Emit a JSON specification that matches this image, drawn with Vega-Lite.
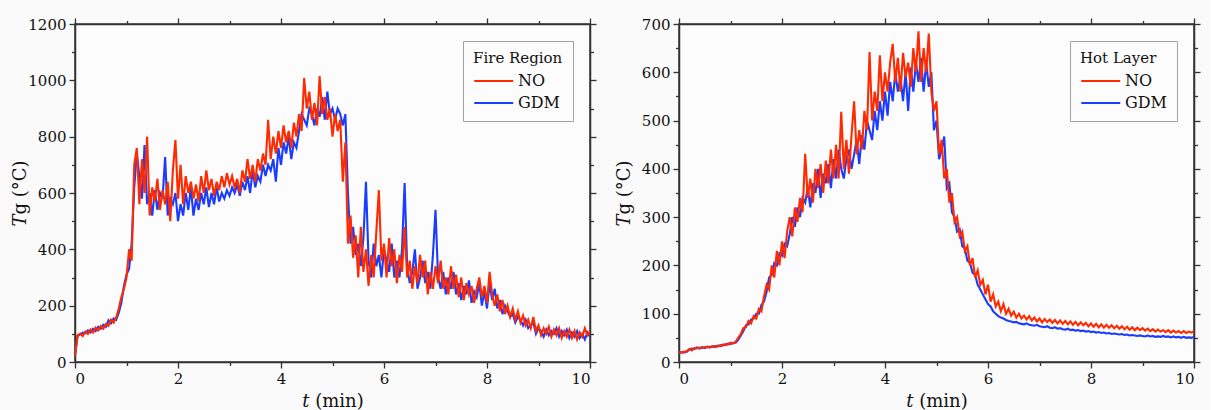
{
"$schema": "https://vega.github.io/schema/vega-lite/v6.json",
"background": "#fafafa",
"padding": {"left": 10, "top": 16, "right": 8, "bottom": 2},
"spacing": 16,
"datasets": {
"fire": [
{"t":0,"NO":20,"GDM":25},{"t":0.05,"NO":95,"GDM":92},{"t":0.1,"NO":100,"GDM":98},{"t":0.15,"NO":92,"GDM":104},{"t":0.2,"NO":108,"GDM":102},{"t":0.25,"NO":100,"GDM":112},{"t":0.3,"NO":115,"GDM":105},{"t":0.35,"NO":104,"GDM":118},{"t":0.4,"NO":122,"GDM":110},{"t":0.45,"NO":112,"GDM":125},{"t":0.5,"NO":128,"GDM":118},{"t":0.55,"NO":118,"GDM":132},{"t":0.6,"NO":135,"GDM":125},{"t":0.65,"NO":128,"GDM":148},{"t":0.7,"NO":150,"GDM":138},{"t":0.75,"NO":140,"GDM":155},{"t":0.8,"NO":158,"GDM":150},{"t":0.85,"NO":190,"GDM":175},{"t":0.9,"NO":230,"GDM":210},{"t":0.95,"NO":260,"GDM":270},{"t":1,"NO":300,"GDM":310},{"t":1.05,"NO":400,"GDM":330},{"t":1.1,"NO":360,"GDM":420},{"t":1.15,"NO":700,"GDM":620},{"t":1.2,"NO":760,"GDM":740},{"t":1.25,"NO":560,"GDM":660},{"t":1.3,"NO":720,"GDM":580},{"t":1.35,"NO":600,"GDM":770},{"t":1.4,"NO":800,"GDM":560},{"t":1.45,"NO":520,"GDM":600},{"t":1.5,"NO":620,"GDM":520},{"t":1.55,"NO":570,"GDM":610},{"t":1.6,"NO":650,"GDM":540},{"t":1.65,"NO":540,"GDM":600},{"t":1.7,"NO":610,"GDM":580},{"t":1.75,"NO":560,"GDM":728},{"t":1.8,"NO":640,"GDM":520},{"t":1.85,"NO":500,"GDM":580},{"t":1.9,"NO":680,"GDM":560},{"t":1.95,"NO":788,"GDM":600},{"t":2,"NO":580,"GDM":500},{"t":2.05,"NO":700,"GDM":560},{"t":2.1,"NO":560,"GDM":520},{"t":2.15,"NO":660,"GDM":600},{"t":2.2,"NO":600,"GDM":540},{"t":2.25,"NO":640,"GDM":620},{"t":2.3,"NO":580,"GDM":520},{"t":2.35,"NO":630,"GDM":580},{"t":2.4,"NO":570,"GDM":540},{"t":2.45,"NO":660,"GDM":600},{"t":2.5,"NO":600,"GDM":560},{"t":2.55,"NO":680,"GDM":620},{"t":2.6,"NO":610,"GDM":550},{"t":2.65,"NO":650,"GDM":600},{"t":2.7,"NO":590,"GDM":560},{"t":2.75,"NO":640,"GDM":620},{"t":2.8,"NO":610,"GDM":570},{"t":2.85,"NO":660,"GDM":600},{"t":2.9,"NO":620,"GDM":580},{"t":2.95,"NO":670,"GDM":610},{"t":3,"NO":630,"GDM":590},{"t":3.05,"NO":660,"GDM":620},{"t":3.1,"NO":620,"GDM":600},{"t":3.15,"NO":650,"GDM":630},{"t":3.2,"NO":600,"GDM":590},{"t":3.25,"NO":680,"GDM":640},{"t":3.3,"NO":640,"GDM":610},{"t":3.35,"NO":720,"GDM":660},{"t":3.4,"NO":650,"GDM":600},{"t":3.45,"NO":700,"GDM":680},{"t":3.5,"NO":640,"GDM":620},{"t":3.55,"NO":720,"GDM":660},{"t":3.6,"NO":680,"GDM":640},{"t":3.65,"NO":740,"GDM":700},{"t":3.7,"NO":700,"GDM":660},{"t":3.75,"NO":860,"GDM":700},{"t":3.8,"NO":720,"GDM":680},{"t":3.85,"NO":800,"GDM":720},{"t":3.9,"NO":740,"GDM":640},{"t":3.95,"NO":820,"GDM":760},{"t":4,"NO":760,"GDM":700},{"t":4.05,"NO":840,"GDM":780},{"t":4.1,"NO":780,"GDM":740},{"t":4.15,"NO":820,"GDM":800},{"t":4.2,"NO":760,"GDM":720},{"t":4.25,"NO":850,"GDM":780},{"t":4.3,"NO":800,"GDM":760},{"t":4.35,"NO":880,"GDM":820},{"t":4.4,"NO":820,"GDM":880},{"t":4.45,"NO":1008,"GDM":860},{"t":4.5,"NO":900,"GDM":840},{"t":4.55,"NO":960,"GDM":900},{"t":4.6,"NO":860,"GDM":880},{"t":4.65,"NO":920,"GDM":840},{"t":4.7,"NO":840,"GDM":900},{"t":4.75,"NO":1015,"GDM":870},{"t":4.8,"NO":880,"GDM":940},{"t":4.85,"NO":940,"GDM":860},{"t":4.9,"NO":860,"GDM":960},{"t":4.95,"NO":900,"GDM":880},{"t":5,"NO":800,"GDM":900},{"t":5.05,"NO":880,"GDM":860},{"t":5.1,"NO":820,"GDM":900},{"t":5.15,"NO":860,"GDM":880},{"t":5.2,"NO":640,"GDM":840},{"t":5.25,"NO":780,"GDM":880},{"t":5.3,"NO":420,"GDM":600},{"t":5.35,"NO":520,"GDM":420},{"t":5.4,"NO":370,"GDM":480},{"t":5.45,"NO":450,"GDM":380},{"t":5.5,"NO":300,"GDM":420},{"t":5.55,"NO":480,"GDM":340},{"t":5.6,"NO":320,"GDM":440},{"t":5.65,"NO":400,"GDM":640},{"t":5.7,"NO":270,"GDM":360},{"t":5.75,"NO":380,"GDM":300},{"t":5.8,"NO":300,"GDM":420},{"t":5.85,"NO":460,"GDM":340},{"t":5.9,"NO":610,"GDM":380},{"t":5.95,"NO":360,"GDM":300},{"t":6,"NO":420,"GDM":400},{"t":6.05,"NO":300,"GDM":360},{"t":6.1,"NO":440,"GDM":320},{"t":6.15,"NO":340,"GDM":420},{"t":6.2,"NO":400,"GDM":300},{"t":6.25,"NO":280,"GDM":360},{"t":6.3,"NO":380,"GDM":300},{"t":6.35,"NO":320,"GDM":400},{"t":6.4,"NO":480,"GDM":635},{"t":6.45,"NO":300,"GDM":340},{"t":6.5,"NO":360,"GDM":280},{"t":6.55,"NO":260,"GDM":320},{"t":6.6,"NO":340,"GDM":400},{"t":6.65,"NO":280,"GDM":260},{"t":6.7,"NO":380,"GDM":300},{"t":6.75,"NO":300,"GDM":360},{"t":6.8,"NO":360,"GDM":280},{"t":6.85,"NO":240,"GDM":320},{"t":6.9,"NO":320,"GDM":260},{"t":6.95,"NO":260,"GDM":380},{"t":7,"NO":340,"GDM":540},{"t":7.05,"NO":280,"GDM":300},{"t":7.1,"NO":360,"GDM":260},{"t":7.15,"NO":260,"GDM":320},{"t":7.2,"NO":300,"GDM":240},{"t":7.25,"NO":240,"GDM":300},{"t":7.3,"NO":340,"GDM":260},{"t":7.35,"NO":260,"GDM":320},{"t":7.4,"NO":310,"GDM":240},{"t":7.45,"NO":230,"GDM":280},{"t":7.5,"NO":300,"GDM":220},{"t":7.55,"NO":220,"GDM":270},{"t":7.6,"NO":280,"GDM":240},{"t":7.65,"NO":240,"GDM":290},{"t":7.7,"NO":270,"GDM":210},{"t":7.75,"NO":210,"GDM":250},{"t":7.8,"NO":260,"GDM":230},{"t":7.85,"NO":300,"GDM":280},{"t":7.9,"NO":230,"GDM":200},{"t":7.95,"NO":270,"GDM":250},{"t":8,"NO":210,"GDM":190},{"t":8.05,"NO":320,"GDM":280},{"t":8.1,"NO":240,"GDM":220},{"t":8.15,"NO":200,"GDM":260},{"t":8.2,"NO":240,"GDM":190},{"t":8.25,"NO":180,"GDM":220},{"t":8.3,"NO":220,"GDM":170},{"t":8.35,"NO":170,"GDM":200},{"t":8.4,"NO":200,"GDM":180},{"t":8.45,"NO":160,"GDM":160},{"t":8.5,"NO":190,"GDM":170},{"t":8.55,"NO":150,"GDM":140},{"t":8.6,"NO":180,"GDM":160},{"t":8.65,"NO":140,"GDM":150},{"t":8.7,"NO":165,"GDM":130},{"t":8.75,"NO":130,"GDM":150},{"t":8.8,"NO":150,"GDM":120},{"t":8.85,"NO":120,"GDM":130},{"t":8.9,"NO":160,"GDM":140},{"t":8.95,"NO":110,"GDM":100},{"t":9,"NO":130,"GDM":120},{"t":9.05,"NO":95,"GDM":110},{"t":9.1,"NO":120,"GDM":90},{"t":9.15,"NO":100,"GDM":115},{"t":9.2,"NO":125,"GDM":95},{"t":9.25,"NO":90,"GDM":110},{"t":9.3,"NO":115,"GDM":100},{"t":9.35,"NO":95,"GDM":120},{"t":9.4,"NO":120,"GDM":90},{"t":9.45,"NO":85,"GDM":110},{"t":9.5,"NO":110,"GDM":95},{"t":9.55,"NO":90,"GDM":115},{"t":9.6,"NO":115,"GDM":85},{"t":9.65,"NO":85,"GDM":105},{"t":9.7,"NO":110,"GDM":90},{"t":9.75,"NO":80,"GDM":110},{"t":9.8,"NO":105,"GDM":85},{"t":9.85,"NO":90,"GDM":100},{"t":9.9,"NO":120,"GDM":80},{"t":9.95,"NO":95,"GDM":105},{"t":10,"NO":110,"GDM":90}
],
"hot": [
{"t":0,"NO":20,"GDM":20},{"t":0.05,"NO":20,"GDM":20},{"t":0.1,"NO":21,"GDM":20},{"t":0.15,"NO":22,"GDM":21},{"t":0.2,"NO":27,"GDM":26},{"t":0.25,"NO":24,"GDM":28},{"t":0.3,"NO":29,"GDM":27},{"t":0.35,"NO":28,"GDM":30},{"t":0.4,"NO":30,"GDM":28},{"t":0.45,"NO":29,"GDM":31},{"t":0.5,"NO":31,"GDM":29},{"t":0.55,"NO":30,"GDM":32},{"t":0.6,"NO":32,"GDM":30},{"t":0.65,"NO":31,"GDM":33},{"t":0.7,"NO":33,"GDM":31},{"t":0.75,"NO":32,"GDM":34},{"t":0.8,"NO":35,"GDM":33},{"t":0.85,"NO":34,"GDM":36},{"t":0.9,"NO":37,"GDM":35},{"t":0.95,"NO":36,"GDM":38},{"t":1,"NO":40,"GDM":37},{"t":1.05,"NO":38,"GDM":40},{"t":1.1,"NO":42,"GDM":40},{"t":1.15,"NO":50,"GDM":46},{"t":1.2,"NO":58,"GDM":55},{"t":1.25,"NO":70,"GDM":64},{"t":1.3,"NO":72,"GDM":76},{"t":1.35,"NO":85,"GDM":78},{"t":1.4,"NO":80,"GDM":88},{"t":1.45,"NO":95,"GDM":90},{"t":1.5,"NO":90,"GDM":100},{"t":1.55,"NO":110,"GDM":100},{"t":1.6,"NO":105,"GDM":118},{"t":1.65,"NO":135,"GDM":125},{"t":1.7,"NO":160,"GDM":145},{"t":1.75,"NO":150,"GDM":175},{"t":1.8,"NO":200,"GDM":180},{"t":1.85,"NO":175,"GDM":205},{"t":1.9,"NO":230,"GDM":200},{"t":1.95,"NO":200,"GDM":225},{"t":2,"NO":250,"GDM":220},{"t":2.05,"NO":215,"GDM":245},{"t":2.1,"NO":270,"GDM":240},{"t":2.15,"NO":300,"GDM":265},{"t":2.2,"NO":260,"GDM":300},{"t":2.25,"NO":320,"GDM":280},{"t":2.3,"NO":290,"GDM":320},{"t":2.35,"NO":340,"GDM":300},{"t":2.4,"NO":310,"GDM":340},{"t":2.45,"NO":431,"GDM":330},{"t":2.5,"NO":340,"GDM":360},{"t":2.55,"NO":380,"GDM":320},{"t":2.6,"NO":330,"GDM":370},{"t":2.65,"NO":400,"GDM":350},{"t":2.7,"NO":360,"GDM":400},{"t":2.75,"NO":410,"GDM":340},{"t":2.8,"NO":350,"GDM":390},{"t":2.85,"NO":417,"GDM":370},{"t":2.9,"NO":370,"GDM":410},{"t":2.95,"NO":440,"GDM":360},{"t":3,"NO":380,"GDM":420},{"t":3.05,"NO":450,"GDM":380},{"t":3.1,"NO":380,"GDM":440},{"t":3.15,"NO":518,"GDM":400},{"t":3.2,"NO":400,"GDM":380},{"t":3.25,"NO":460,"GDM":420},{"t":3.3,"NO":390,"GDM":440},{"t":3.35,"NO":470,"GDM":400},{"t":3.4,"NO":540,"GDM":430},{"t":3.45,"NO":430,"GDM":460},{"t":3.5,"NO":480,"GDM":410},{"t":3.55,"NO":440,"GDM":470},{"t":3.6,"NO":520,"GDM":440},{"t":3.65,"NO":480,"GDM":500},{"t":3.7,"NO":642,"GDM":480},{"t":3.75,"NO":500,"GDM":460},{"t":3.8,"NO":560,"GDM":520},{"t":3.85,"NO":520,"GDM":480},{"t":3.9,"NO":635,"GDM":540},{"t":3.95,"NO":540,"GDM":500},{"t":4,"NO":600,"GDM":560},{"t":4.05,"NO":560,"GDM":510},{"t":4.1,"NO":620,"GDM":580},{"t":4.15,"NO":659,"GDM":540},{"t":4.2,"NO":580,"GDM":600},{"t":4.25,"NO":630,"GDM":560},{"t":4.3,"NO":560,"GDM":590},{"t":4.35,"NO":640,"GDM":540},{"t":4.4,"NO":590,"GDM":600},{"t":4.45,"NO":620,"GDM":520},{"t":4.5,"NO":570,"GDM":610},{"t":4.55,"NO":650,"GDM":560},{"t":4.6,"NO":600,"GDM":620},{"t":4.65,"NO":685,"GDM":580},{"t":4.7,"NO":580,"GDM":630},{"t":4.75,"NO":650,"GDM":560},{"t":4.8,"NO":600,"GDM":620},{"t":4.85,"NO":680,"GDM":570},{"t":4.9,"NO":560,"GDM":600},{"t":4.95,"NO":520,"GDM":480},{"t":5,"NO":540,"GDM":500},{"t":5.05,"NO":430,"GDM":420},{"t":5.1,"NO":460,"GDM":440},{"t":5.15,"NO":380,"GDM":467},{"t":5.2,"NO":400,"GDM":360},{"t":5.25,"NO":330,"GDM":370},{"t":5.3,"NO":350,"GDM":310},{"t":5.35,"NO":290,"GDM":300},{"t":5.4,"NO":300,"GDM":270},{"t":5.45,"NO":260,"GDM":275},{"t":5.5,"NO":270,"GDM":240},{"t":5.55,"NO":230,"GDM":235},{"t":5.6,"NO":240,"GDM":210},{"t":5.65,"NO":200,"GDM":205},{"t":5.7,"NO":215,"GDM":185},{"t":5.75,"NO":175,"GDM":180},{"t":5.8,"NO":190,"GDM":160},{"t":5.85,"NO":160,"GDM":150},{"t":5.9,"NO":170,"GDM":140},{"t":5.95,"NO":140,"GDM":130},{"t":6,"NO":160,"GDM":120},{"t":6.05,"NO":125,"GDM":115},{"t":6.1,"NO":140,"GDM":105},{"t":6.15,"NO":115,"GDM":100},{"t":6.2,"NO":125,"GDM":95},{"t":6.25,"NO":105,"GDM":92},{"t":6.3,"NO":120,"GDM":90},{"t":6.35,"NO":100,"GDM":87},{"t":6.4,"NO":110,"GDM":85},{"t":6.45,"NO":96,"GDM":84},{"t":6.5,"NO":104,"GDM":82},{"t":6.55,"NO":92,"GDM":83},{"t":6.6,"NO":100,"GDM":80},{"t":6.65,"NO":90,"GDM":79},{"t":6.7,"NO":96,"GDM":78},{"t":6.75,"NO":88,"GDM":80},{"t":6.8,"NO":95,"GDM":77},{"t":6.85,"NO":86,"GDM":76},{"t":6.9,"NO":92,"GDM":75},{"t":6.95,"NO":84,"GDM":77},{"t":7,"NO":90,"GDM":74},{"t":7.05,"NO":82,"GDM":73},{"t":7.1,"NO":89,"GDM":72},{"t":7.15,"NO":83,"GDM":74},{"t":7.2,"NO":88,"GDM":71},{"t":7.25,"NO":81,"GDM":70},{"t":7.3,"NO":87,"GDM":72},{"t":7.35,"NO":80,"GDM":69},{"t":7.4,"NO":86,"GDM":70},{"t":7.45,"NO":79,"GDM":68},{"t":7.5,"NO":85,"GDM":67},{"t":7.55,"NO":78,"GDM":69},{"t":7.6,"NO":84,"GDM":66},{"t":7.65,"NO":77,"GDM":67},{"t":7.7,"NO":83,"GDM":65},{"t":7.75,"NO":76,"GDM":66},{"t":7.8,"NO":82,"GDM":64},{"t":7.85,"NO":76,"GDM":65},{"t":7.9,"NO":81,"GDM":63},{"t":7.95,"NO":74,"GDM":64},{"t":8,"NO":80,"GDM":62},{"t":8.05,"NO":73,"GDM":63},{"t":8.1,"NO":79,"GDM":61},{"t":8.15,"NO":72,"GDM":62},{"t":8.2,"NO":78,"GDM":60},{"t":8.25,"NO":71,"GDM":61},{"t":8.3,"NO":77,"GDM":59},{"t":8.35,"NO":71,"GDM":60},{"t":8.4,"NO":76,"GDM":58},{"t":8.45,"NO":70,"GDM":59},{"t":8.5,"NO":75,"GDM":58},{"t":8.55,"NO":69,"GDM":57},{"t":8.6,"NO":74,"GDM":58},{"t":8.65,"NO":68,"GDM":56},{"t":8.7,"NO":73,"GDM":57},{"t":8.75,"NO":67,"GDM":55},{"t":8.8,"NO":72,"GDM":56},{"t":8.85,"NO":66,"GDM":55},{"t":8.9,"NO":71,"GDM":54},{"t":8.95,"NO":66,"GDM":55},{"t":9,"NO":70,"GDM":54},{"t":9.05,"NO":65,"GDM":53},{"t":9.1,"NO":69,"GDM":55},{"t":9.15,"NO":64,"GDM":53},{"t":9.2,"NO":68,"GDM":54},{"t":9.25,"NO":63,"GDM":52},{"t":9.3,"NO":67,"GDM":53},{"t":9.35,"NO":63,"GDM":52},{"t":9.4,"NO":66,"GDM":54},{"t":9.45,"NO":62,"GDM":52},{"t":9.5,"NO":66,"GDM":53},{"t":9.55,"NO":61,"GDM":51},{"t":9.6,"NO":65,"GDM":53},{"t":9.65,"NO":61,"GDM":51},{"t":9.7,"NO":64,"GDM":52},{"t":9.75,"NO":60,"GDM":50},{"t":9.8,"NO":64,"GDM":52},{"t":9.85,"NO":60,"GDM":50},{"t":9.9,"NO":63,"GDM":51},{"t":9.95,"NO":61,"GDM":50},{"t":10,"NO":64,"GDM":52}
]
},
"hconcat": [
{
"width": 515, "height": 338,
"data": {"name": "fire"},
"transform": [{"fold": ["GDM", "NO"], "as": ["series", "T"]}],
"layer": [
{"mark": {"type": "line", "strokeWidth": 2.1, "clip": true},
 "encoding": {
  "x": {"field": "t", "type": "quantitative", "scale": {"domain": [0, 10], "nice": false},
        "axis": {"orient": "bottom", "values": [0,1,2,3,4,5,6,7,8,9,10], "labelExpr": "datum.value % 2 == 0 ? datum.label : ''", "tickSize": {"condition": {"test": "datum.value % 2 == 0", "value": 6}, "value": 3.5}, "title": "𝑡 (min)"}},
  "y": {"field": "T", "type": "quantitative", "scale": {"domain": [0, 1200], "nice": false},
        "axis": {"orient": "left", "minExtent": 44, "maxExtent": 44, "format": "d", "values": [0,100,200,300,400,500,600,700,800,900,1000,1100,1200], "labelExpr": "datum.value % 200 == 0 ? datum.label : ''", "tickSize": {"condition": {"test": "datum.value % 200 == 0", "value": 6}, "value": 3.5}, "title": "𝑇g (°C)"}},
  "color": {"field": "series", "type": "nominal", "scale": {"domain": ["NO", "GDM"], "range": ["#ff2a00", "#1a3cff"]}, "legend": {"title": "Fire Region"}}
 }},
{"mark": {"type": "line", "opacity": 0},
 "encoding": {
  "x": {"field": "t", "type": "quantitative", "axis": {"orient": "top", "minExtent": 6, "maxExtent": 6, "values": [0,1,2,3,4,5,6,7,8,9,10], "labels": false, "title": null, "tickSize": {"condition": {"test": "datum.value % 2 == 0", "value": 6}, "value": 3.5}}},
  "y": {"field": "T", "type": "quantitative", "axis": {"orient": "right", "minExtent": 6, "maxExtent": 6, "values": [0,100,200,300,400,500,600,700,800,900,1000,1100,1200], "labels": false, "title": null, "tickSize": {"condition": {"test": "datum.value % 200 == 0", "value": 6}, "value": 3.5}}},
  "detail": {"field": "series", "type": "nominal"}
 }}
]
},
{
"width": 515, "height": 338,
"data": {"name": "hot"},
"transform": [{"fold": ["GDM", "NO"], "as": ["series", "T"]}],
"layer": [
{"mark": {"type": "line", "strokeWidth": 2.1, "clip": true},
 "encoding": {
  "x": {"field": "t", "type": "quantitative", "scale": {"domain": [0, 10], "nice": false},
        "axis": {"orient": "bottom", "values": [0,1,2,3,4,5,6,7,8,9,10], "labelExpr": "datum.value % 2 == 0 ? datum.label : ''", "tickSize": {"condition": {"test": "datum.value % 2 == 0", "value": 6}, "value": 3.5}, "title": "𝑡 (min)"}},
  "y": {"field": "T", "type": "quantitative", "scale": {"domain": [0, 700], "nice": false},
        "axis": {"orient": "left", "minExtent": 44, "maxExtent": 44, "format": "d", "values": [0,50,100,150,200,250,300,350,400,450,500,550,600,650,700], "labelExpr": "datum.value % 100 == 0 ? datum.label : ''", "tickSize": {"condition": {"test": "datum.value % 100 == 0", "value": 6}, "value": 3.5}, "title": "𝑇g (°C)"}},
  "color": {"field": "series", "type": "nominal", "scale": {"domain": ["NO", "GDM"], "range": ["#ff2a00", "#1a3cff"]}, "legend": {"title": "Hot Layer"}}
 }},
{"mark": {"type": "line", "opacity": 0},
 "encoding": {
  "x": {"field": "t", "type": "quantitative", "axis": {"orient": "top", "minExtent": 6, "maxExtent": 6, "values": [0,1,2,3,4,5,6,7,8,9,10], "labels": false, "title": null, "tickSize": {"condition": {"test": "datum.value % 2 == 0", "value": 6}, "value": 3.5}}},
  "y": {"field": "T", "type": "quantitative", "axis": {"orient": "right", "minExtent": 6, "maxExtent": 6, "values": [0,50,100,150,200,250,300,350,400,450,500,550,600,650,700], "labels": false, "title": null, "tickSize": {"condition": {"test": "datum.value % 100 == 0", "value": 6}, "value": 3.5}}},
  "detail": {"field": "series", "type": "nominal"}
 }}
]
}
],
"resolve": {"legend": {"color": "independent"}, "scale": {"color": "independent"}},
"config": {
 "view": {"stroke": "#333", "strokeWidth": 1.5, "fill": "#fcfcfc"},
 "axis": {"grid": false, "domainColor": "#333", "domainWidth": 1.5, "tickColor": "#333", "tickWidth": 1.3, "labelFont": "DejaVu Serif", "labelFontSize": 15, "labelColor": "#111", "labelPadding": 3, "titleFont": "DejaVu Serif", "titleFontSize": 18, "titleFontWeight": "normal", "titleColor": "#111", "titlePadding": 2},
 "axisX": {"titlePadding": 6},
 "legend": {"orient": "top-right", "offset": 17, "strokeColor": "#a0a0a0", "fillColor": "#fcfcfc", "padding": 10, "titleFont": "DejaVu Serif", "titleFontSize": 15, "titleFontWeight": "normal", "titleColor": "#111", "labelFont": "DejaVu Serif", "labelFontSize": 16, "labelColor": "#111", "symbolType": "M-1,0H3", "symbolSize": 380, "symbolStrokeWidth": 2, "rowPadding": 3, "titlePadding": 4, "labelOffset": 23}
}
}
